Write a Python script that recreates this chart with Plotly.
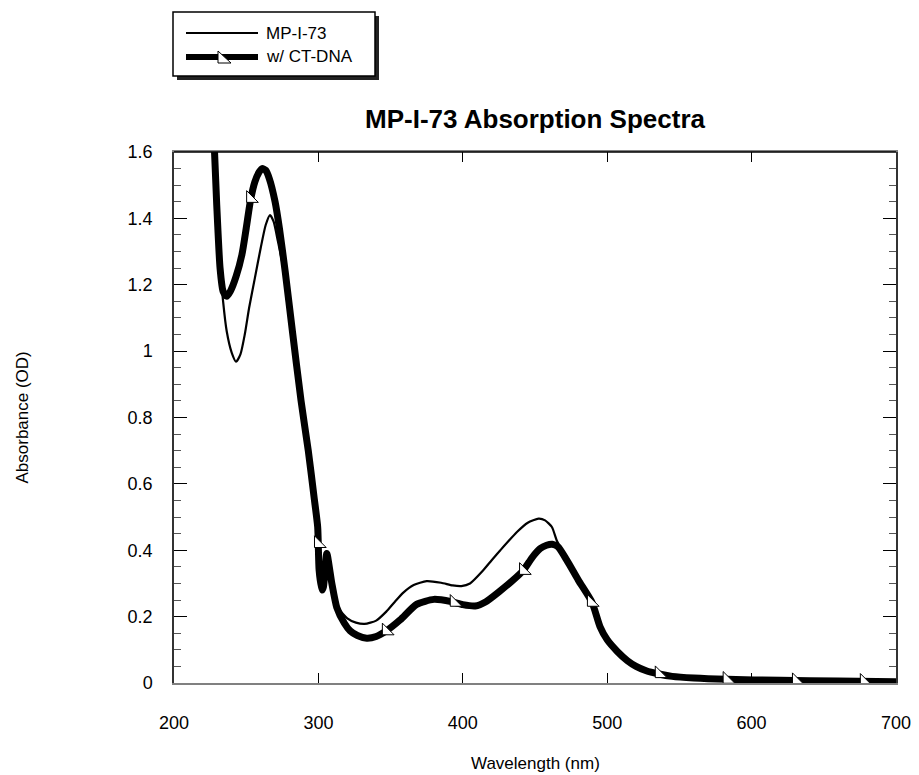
import plotly.graph_objects as go

# ---------------- data ----------------
wl_free = [228, 229.6, 231.9, 234, 236.5, 240, 243, 246, 249, 252, 256, 260, 263.5, 266.5,
           269, 272, 277, 282, 288, 293, 297, 299.5, 300.5, 302.5, 303.5, 305.8, 309.3,
           314, 320, 326, 332, 340, 347, 353, 359, 366, 375, 385, 393, 399, 405, 414, 420,
           426, 437.5, 445, 452.5, 457, 461.7, 465, 468, 472, 480, 489.5, 495, 500, 507,
           514, 520, 527, 535, 545, 560, 583, 620, 660, 700]
abs_free = [1.66, 1.44, 1.26, 1.15, 1.06, 0.995, 0.968, 0.99, 1.05, 1.13, 1.22, 1.31, 1.38, 1.41,
            1.39, 1.33, 1.22, 1.05, 0.85, 0.70, 0.56, 0.47, 0.34, 0.28, 0.29, 0.39, 0.30,
            0.225, 0.195, 0.182, 0.178, 0.188, 0.215, 0.245, 0.273, 0.295, 0.307, 0.302, 0.294,
            0.292, 0.30, 0.339, 0.37, 0.40, 0.455, 0.483, 0.495, 0.49, 0.47, 0.43, 0.405,
            0.372, 0.31, 0.243, 0.17, 0.13, 0.095, 0.067, 0.05, 0.037, 0.028, 0.02, 0.015,
            0.011, 0.008, 0.006, 0.004]

wl_dna = [227.5, 229.6, 231.9, 234, 236.5, 239, 243, 247, 250, 253, 256, 259, 261, 263.5, 266,
          270, 273, 277, 282, 288, 293, 297, 299.5, 300.5, 302.5, 303.5, 305.8, 309.3, 312.7,
          318, 322, 327, 333.5, 340, 347, 356.6, 368, 380, 392, 400, 408.6, 416, 426, 434,
          442, 448, 453.6, 458, 462, 466, 472, 480, 489.5, 495, 500, 507, 514, 520, 527, 535,
          545, 560, 583, 620, 660, 700]
abs_dna = [1.66, 1.44, 1.25, 1.18, 1.165, 1.18, 1.225, 1.29, 1.37, 1.455, 1.51, 1.54, 1.55, 1.545,
           1.52, 1.45, 1.37, 1.24, 1.06, 0.85, 0.70, 0.56, 0.47, 0.34, 0.28, 0.29, 0.39, 0.30,
           0.228, 0.18, 0.157, 0.143, 0.135, 0.14, 0.157, 0.19, 0.237, 0.252, 0.245, 0.236,
           0.232, 0.245, 0.278, 0.307, 0.34, 0.378, 0.405, 0.415, 0.418, 0.41, 0.37, 0.31,
           0.243, 0.17, 0.13, 0.095, 0.067, 0.05, 0.037, 0.028, 0.02, 0.015, 0.011, 0.008,
           0.006, 0.004]

marker_nm = [253, 300, 347, 394, 442, 489, 536, 583, 631, 678]
marker_abs = [1.46, 0.42, 0.157, 0.243, 0.339, 0.243, 0.028, 0.011, 0.007, 0.005]

series_names = ["MP-I-73", "w/ CT-DNA"]
x_ticks = [200, 300, 400, 500, 600, 700]
y_ticks = [0, 0.2, 0.4, 0.6, 0.8, 1, 1.2, 1.4, 1.6]

# ---------------- layout geometry ----------------
W, H = 919, 775
L, R, T, B = 174, 896, 152, 683
PW, PH = R - L, B - T
FONT = "Liberation Sans, Arial, sans-serif"


def px(x):
    return (x - L) / PW


def py(y):
    return (B - y) / PH


fig = go.Figure()
fig.add_trace(go.Scatter(x=wl_free, y=abs_free, mode="lines", name=series_names[0],
                         line=dict(color="black", width=2.2, shape="spline", smoothing=0.6),
                         showlegend=False))
fig.add_trace(go.Scatter(x=wl_dna, y=abs_dna, mode="lines", name=series_names[1],
                         line=dict(color="black", width=7, shape="spline", smoothing=0.6),
                         showlegend=False))
fig.add_trace(go.Scatter(x=marker_nm, y=marker_abs, mode="markers", name=series_names[1],
                         marker=dict(symbol="triangle-sw", size=13, color="white",
                                     line=dict(color="black", width=1)),
                         showlegend=False))

shapes = []
# legend shadow + box
shapes.append(dict(type="rect", xref="paper", yref="paper", x0=px(177), x1=px(379),
                   y0=py(80), y1=py(16), fillcolor="#222", line=dict(width=0), layer="above"))
shapes.append(dict(type="rect", xref="paper", yref="paper", x0=px(173), x1=px(375),
                   y0=py(76), y1=py(12), fillcolor="white", line=dict(color="black", width=1.5),
                   layer="above"))
shapes.append(dict(type="line", xref="paper", yref="paper", x0=px(186), x1=px(258),
                   y0=py(33), y1=py(33), line=dict(color="black", width=2), layer="above"))
shapes.append(dict(type="line", xref="paper", yref="paper", x0=px(186), x1=px(258),
                   y0=py(57), y1=py(57), line=dict(color="black", width=6), layer="above"))
shapes.append(dict(type="path", xref="paper", yref="paper", xsizemode="pixel", ysizemode="pixel",
                   xanchor=px(224), yanchor=py(57), path="M -6,6 L -6,-6 L 7,-6 Z",
                   fillcolor="white", line=dict(color="black", width=1), layer="above"))
# black top frame line
shapes.append(dict(type="line", xref="paper", yref="paper", x0=0, x1=1, y0=1, y1=1,
                   line=dict(color="black", width=1.5), layer="above"))

annotations = [
    dict(text=series_names[0], xref="paper", yref="paper", x=px(264), y=py(33),
         xanchor="left", yanchor="middle", showarrow=False, font=dict(size=17, color="black")),
    dict(text=series_names[1], xref="paper", yref="paper", x=px(264), y=py(57),
         xanchor="left", yanchor="middle", showarrow=False, font=dict(size=17, color="black")),
    dict(text="Wavelength (nm)", xref="paper", yref="paper", x=0.5, y=py(763),
         xanchor="center", yanchor="middle", showarrow=False, font=dict(size=17, color="black")),
    dict(text="Absorbance (OD)", xref="paper", yref="paper", x=px(22), y=0.5, textangle=-90,
         xanchor="center", yanchor="middle", showarrow=False, font=dict(size=17, color="black")),
]

fig.update_layout(
    width=W, height=H,
    margin=dict(l=L, r=W - R, t=T, b=H - B, autoexpand=False),
    paper_bgcolor="white", plot_bgcolor="white",
    font=dict(family=FONT, color="black", size=17),
    title=dict(text="<b>MP-I-73 Absorption Spectra</b>", x=0.5, xref="paper",
               y=1 - 119 / H, yref="container", xanchor="center", yanchor="middle",
               font=dict(size=26, family=FONT, color="black")),
    showlegend=False,
    shapes=shapes,
    annotations=annotations,
)
fig.update_xaxes(range=[200, 700], tickvals=x_ticks, ticks="inside", ticklen=10,
                 tickcolor="black", showline=True, linecolor="#808080", linewidth=1.5,
                 mirror="ticks", showgrid=False, zeroline=False, ticklabelstandoff=23,
                 tickfont=dict(size=18))
fig.update_yaxes(range=[0, 1.6], tickvals=y_ticks, ticks="inside", ticklen=13,
                 tickcolor="black", showline=True, linecolor="#333", linewidth=1.5,
                 mirror="ticks", showgrid=False, zeroline=False, ticklabelstandoff=16,
                 tickfont=dict(size=18),
                 minor=dict(dtick=0.05, ticks="inside", ticklen=7, tickcolor="#555"))

fig.write_html("out.html")
